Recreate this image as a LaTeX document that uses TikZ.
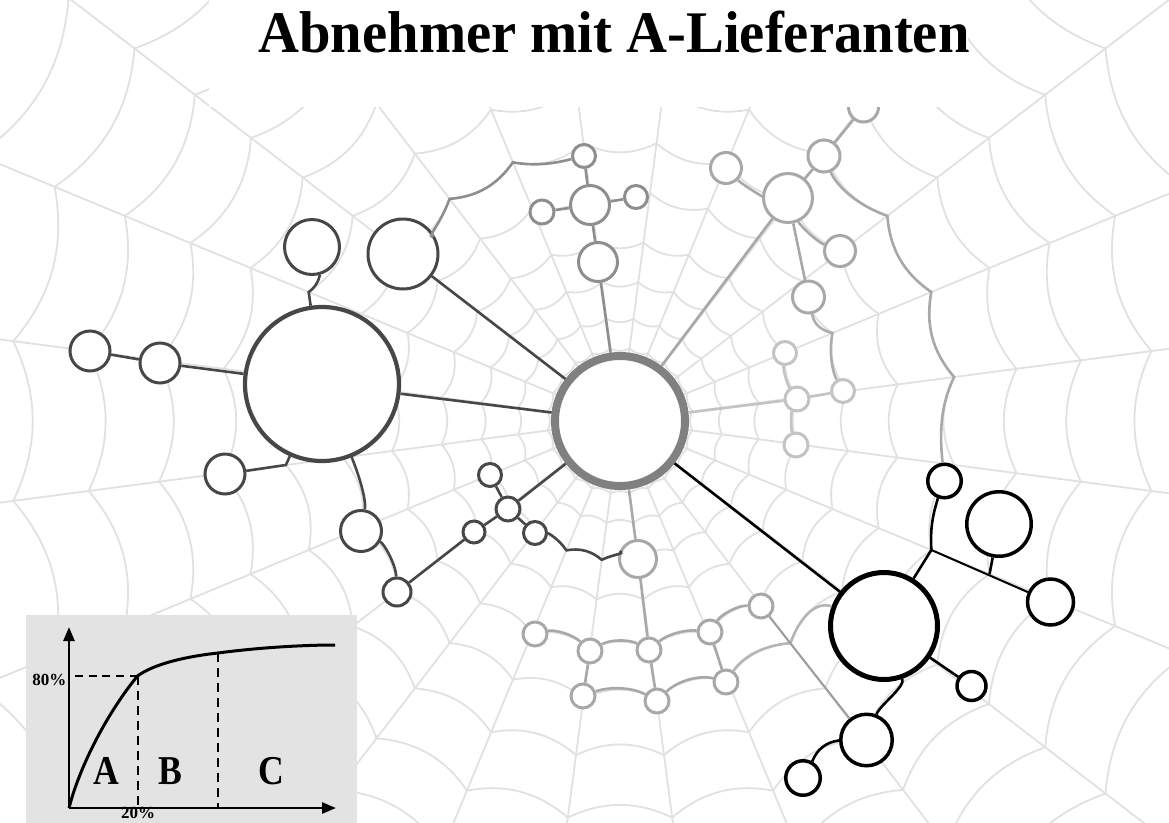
\documentclass[tikz,border=0pt]{standalone}
\usepackage{fontspec}
\usepackage{graphicx}
\setmainfont{Liberation Serif}
\usetikzlibrary{arrows.meta}
\definecolor{webline}{HTML}{E1E1E1}
\definecolor{darkgrp}{HTML}{474747}
\definecolor{hubgray}{HTML}{808080}
\definecolor{midgrp}{HTML}{8E8E8E}
\definecolor{lightgrp}{HTML}{A8A8A8}
\definecolor{palegrp}{HTML}{C3C3C3}
\definecolor{linkgray}{HTML}{9C9C9C}
\definecolor{chartbg}{HTML}{E3E3E3}
\begin{document}
\begin{tikzpicture}[x=1pt,y=-1pt,
  web/.style={draw=webline,line width=1.8pt},
  nd/.style={circle,fill=white,inner sep=0pt,line width=3pt},
  dkn/.style={nd,draw=darkgrp},
  tn/.style={nd,draw=midgrp},
  rn/.style={nd,draw=lightgrp},
  qn/.style={nd,draw=palegrp},
  bn/.style={nd,draw=lightgrp,minimum size=24pt},
  kn/.style={nd,draw=black,line width=3.5pt},
  hub/.style={nd,draw=hubgray,line width=8pt,minimum size=130pt},
  dkl/.style={draw=darkgrp,line width=2.6pt},
  tl/.style={draw=midgrp,line width=2.6pt},
  rl/.style={draw=lightgrp,line width=2.6pt},
  ql/.style={draw=palegrp,line width=2.6pt},
  kl/.style={draw=black,line width=2.6pt},
  axisline/.style={line width=2.6pt,-{Triangle[length=14pt,width=11pt]}},
  chartdash/.style={line width=2pt,dash pattern=on 8pt off 5.7pt},
  bigletter/.style={font=\bfseries\fontsize{41}{41}\selectfont,anchor=base,inner sep=0pt},
  smalllabel/.style={font=\bfseries\fontsize{17}{17}\selectfont,inner sep=0pt}
]
\useasboundingbox (0,0) rectangle (1169,822);
\clip (0,0) rectangle (1169,822);
\fill[white] (0,0) rectangle (1169,822);

% ---- spider web: spokes and sagging rings ----
\begin{scope}[shift={(620,421)}]
  \foreach \a in {7.5,22.5,...,352.5} \draw[web] (0,0) -- (\a:950pt);
  \foreach \r in {73,103,140,180,230,280,337,400,465,536,612,695,785,880} {
    \pgfmathsetmacro\rq{0.95*\r}
    \foreach \a in {7.5,22.5,...,352.5} {
      \pgfmathsetmacro\ab{\a+5}
      \pgfmathsetmacro\ac{\a+10}
      \pgfmathsetmacro\ad{\a+15}
      \draw[web] (\a:\r pt) .. controls (\ab:\rq pt) and (\ac:\rq pt) .. (\ad:\r pt);
    }
  }
\end{scope}

% ---- nodes ----
\node[hub] (C) at (620,421) {};

\node[dkn,minimum size=154pt,line width=4.2pt] (L1) at (322,384) {};
\node[dkn,minimum size=55pt] (L2) at (312,247) {};
\node[dkn,minimum size=70pt] (L3) at (403,254) {};
\node[dkn,minimum size=40pt] (L4) at (225,474) {};
\node[dkn,minimum size=41pt] (L5) at (361,531) {};
\node[dkn,minimum size=28pt] (L6) at (397,592) {};
\node[dkn,minimum size=40pt] (F1) at (90,351) {};
\node[dkn,minimum size=40pt] (F2) at (160,363) {};
\node[dkn,minimum size=23pt] (S1) at (490,475) {};
\node[dkn,minimum size=24pt] (S2) at (508,509) {};
\node[dkn,minimum size=22pt] (S3) at (474,532) {};
\node[dkn,minimum size=23pt] (S4) at (535,533) {};

\node[tn,minimum size=23pt] (T1) at (584,156) {};
\node[tn,minimum size=39pt] (T2) at (590,205) {};
\node[tn,minimum size=24pt] (T3) at (542,212) {};
\node[tn,minimum size=23pt] (T4) at (636,197) {};
\node[tn,minimum size=39pt] (T5) at (598,262) {};

\node[rn,minimum size=49pt] (R1) at (788,198) {};
\node[rn,minimum size=31pt] (R2) at (726,168) {};
\node[rn,minimum size=32pt] (R3) at (824,156) {};
\node[rn,minimum size=30pt] (R4) at (863.5,107) {};
\node[rn,minimum size=31pt] (R5) at (840,251) {};
\node[rn,minimum size=32pt] (R6) at (808.5,297) {};

\node[qn,minimum size=23pt] (Q1) at (785,353) {};
\node[qn,minimum size=24pt] (Q2) at (797,399) {};
\node[qn,minimum size=24pt] (Q3) at (796,445) {};
\node[qn,minimum size=23pt] (Q4) at (843,391) {};

\node[bn,minimum size=37pt] (G) at (638,559) {};
\node[bn] (B1) at (535,634) {};
\node[bn] (B2) at (590,651) {};
\node[bn] (B3) at (649,650) {};
\node[bn] (B4) at (710,632) {};
\node[bn] (B5) at (761,606) {};
\node[bn] (B6) at (583,696) {};
\node[bn] (B7) at (657,701) {};
\node[bn] (B8) at (726,682) {};

\node[kn,minimum size=107pt,line width=5pt] (D1) at (884,626) {};
\node[kn,minimum size=33.5pt] (E1) at (944.5,481) {};
\node[kn,minimum size=64.5pt] (E2) at (999,524) {};
\node[kn,minimum size=46pt] (E3) at (1050.5,602) {};
\node[kn,minimum size=29pt] (E4) at (971.5,686) {};
\node[kn,minimum size=51.5pt] (E5) at (866.5,740) {};
\node[kn,minimum size=34.5pt] (E6) at (803,778) {};

% ---- connectors (threads of the web) ----
\begin{scope}[shift={(620,421)}]
  \coordinate (k1) at (157.5:337pt);
  \coordinate (k2) at (187.5:337pt);
  \coordinate (m1) at (247.5:140pt);
  \coordinate (m2) at (262.5:140pt);
  \coordinate (n1) at (127.5:280pt);
  \coordinate (n2) at (112.5:280pt);
  \coordinate (p1) at (22.5:230pt);
  \coordinate (s1) at (37.5:337pt);
  \coordinate (s2) at (22.5:337pt);
  \coordinate (s3) at (7.5:337pt);
  \coordinate (u1) at (307.5:280pt);
  \coordinate (J) at (337.5:337pt);
  \coordinate (v1) at (337.5:400pt);

  % dark group
  \draw[dkl] (L1) -- (C);
  \draw[dkl] (L3) -- (C);
  \draw[dkl] (L1) -- (F2);
  \draw[dkl] (F2) -- (F1);
  \draw[dkl] (L1) -- (k1) to[bend right=20] (L2);
  \draw[dkl] (L1) -- (k2) -- (L4);
  \draw[dkl] (L1) .. controls (192.5:266pt) and (197.5:266pt) .. (L5);
  \draw[dkl] (L5) .. controls (207.5:266pt) and (212.5:266pt) .. (L6);
  \draw[dkl] (L6) -- (S3);
  \draw[dkl] (S3) -- (S2);
  \draw[dkl] (S2) -- (S1);
  \draw[dkl] (S2) -- (S4);
  \draw[dkl] (S2) -- (C);
  \draw[dkl] (S4) .. controls (237.5:133pt) and (242.5:133pt) .. (m1)
                  .. controls (252.5:133pt) and (257.5:133pt) .. (m2)
                  .. controls (267.5:133pt) and (272.5:133pt) .. (G);

  % upper middle group
  \draw[tl] (L3) .. controls (137.5:266pt) and (132.5:266pt) .. (n1)
                 .. controls (122.5:266pt) and (117.5:266pt) .. (n2)
                 .. controls (107.5:266pt) and (102.5:266pt) .. (T1);
  \draw[tl] (T1) -- (T2);
  \draw[tl] (T3) -- (T2);
  \draw[tl] (T2) -- (T4);
  \draw[tl] (T2) -- (T5);
  \draw[tl] (T5) -- (C);

  % upper right group
  \draw[rl] (R1) -- (C);
  \draw[rl] (R1) -- (R3);
  \draw[rl] (R3) -- (R4);
  \draw[rl] (R1) -- (R6);
  \draw[rl] (R1) .. controls (57.5:266pt) and (62.5:266pt) .. (R2);
  \draw[rl] (R1) .. controls (47.5:266pt) and (42.5:266pt) .. (R5);
  \draw[rl] (R3) .. controls (47.5:320pt) and (42.5:320pt) .. (s1)
                 .. controls (32.5:320pt) and (27.5:320pt) .. (s2)
                 .. controls (17.5:320pt) and (12.5:320pt) .. (s3)
                 .. controls (2.5:320pt) and (-2.5:320pt) .. (E1);
  \draw[ql,draw=lightgrp!80!palegrp] (R6) .. controls (27.5:218pt) and (25:217pt) .. (p1)
                 .. controls (17.5:218.5pt) and (12.5:218.5pt) .. (Q4);

  % right pale group
  \draw[ql] (Q2) -- (C);
  \draw[ql] (Q2) -- (Q4);
  \draw[ql] (Q1) .. controls (17.5:171pt) and (12.5:171pt) .. (Q2);
  \draw[ql] (Q2) .. controls (2.5:171pt) and (-2.5:171pt) .. (Q3);

  % lower group
  \draw[rl] (G) -- (C);
  \draw[rl] (G) -- (B3);
  \draw[rl] (B2) -- (B6);
  \draw[rl] (B3) -- (B7);
  \draw[rl] (B4) -- (B8);
  \draw[rl] (B1) .. controls (252.5:218.5pt) and (257.5:218.5pt) .. (B2);
  \draw[rl] (B2) .. controls (267.5:218.5pt) and (272.5:218.5pt) .. (B3);
  \draw[rl] (B3) .. controls (282.5:218.5pt) and (287.5:218.5pt) .. (B4);
  \draw[rl] (B4) .. controls (297.5:218.5pt) and (302.5:218.5pt) .. (B5);
  \draw[rl] (B6) .. controls (267.5:266pt) and (272.5:266pt) .. (B7);
  \draw[rl] (B7) .. controls (282.5:266pt) and (287.5:266pt) .. (B8);
  \draw[rl,draw=lightgrp!85!white] (B8) .. controls (297.5:266pt) and (302.5:266pt) .. (u1)
                 .. controls (312.5:266pt) and (317.5:266pt) .. (D1);
  \draw[draw=linkgray,line width=2pt] (B5) -- (E5);

  % black group
  \draw[kl] (D1) -- (C);
  \draw[kl] (D1) -- (J);
  \draw[kl] (J) to[bend left=10] (E1);
  \draw[kl,line width=2pt] (J) -- (E3);
  \draw[kl] (E2) -- (v1);
  \draw[kl] (D1) -- (E4);
  \draw[kl] (D1) .. controls (317:390pt) and (312.5:385pt) .. (E5);
  \draw[kl] (E5) to[bend right=30] (E6);
\end{scope}

% ---- title band ----
\fill[white] (209,0) rectangle (968,107);
\node[font=\bfseries\fontsize{59}{59}\selectfont,anchor=base,inner sep=0pt] (title) at (614,52.5)
  {\scalebox{0.96}[1]{Abnehmer mit A-Lieferanten}};

% ---- ABC curve inset ----
\fill[chartbg] (26,615) rectangle (357,830);
\coordinate (O) at (69,808);
\coordinate (Ytop) at (69,627);
\coordinate (Xend) at (336,808);
\coordinate (P80) at (137.5,676);
\coordinate (P2) at (218,653);
\coordinate (P3) at (335,645);
\coordinate (H80) at (75,676);
\coordinate (Bx) at (137.5,808);
\coordinate (Cx) at (218,808);
\draw[chartdash] (H80) -- (P80);
\draw[chartdash,dash pattern=on 9pt off 6pt] (P80) -- (Bx);
\draw[chartdash,dash pattern=on 9pt off 6pt] (P2) -- (Cx);
\draw[line width=3pt] (O) .. controls (80,765) and (108,712) .. (P80)
  .. controls (155,663) and (190,656) .. (P2)
  .. controls (255,648) and (300,645) .. (P3);
\draw[axisline] (O) -- (Ytop);
\draw[axisline] (O) -- (Xend);
\node[bigletter] (la) at (106,784) {\scalebox{0.87}[1]{A}};
\node[bigletter] (lb) at (170,784) {\scalebox{0.87}[1]{B}};
\node[bigletter] (lc) at (271,784) {\scalebox{0.87}[1]{C}};
\node[smalllabel,anchor=base east] (l80) at (66.5,685) {80\%};
\node[smalllabel,anchor=base] (l20) at (138,818.5) {20\%};
\end{tikzpicture}
\end{document}
